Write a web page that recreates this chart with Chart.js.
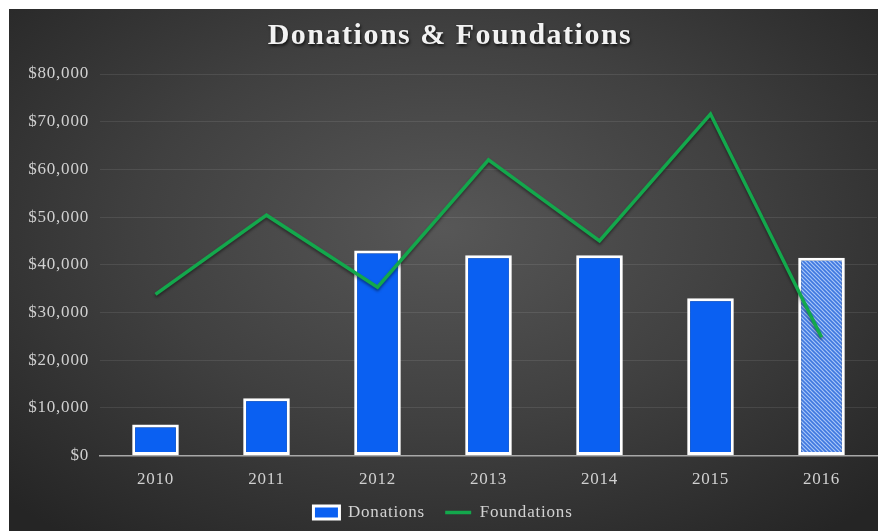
<!DOCTYPE html>
<html>
<head>
<meta charset="utf-8">
<script src="https://cdn.jsdelivr.net/npm/chart.js@4"></script>
<style>
  html, body { margin: 0; padding: 0; background: #ffffff; }
  #wrap {
    position: absolute; left: 9px; top: 9px; width: 869px; height: 522px;
    background: radial-gradient(ellipse 70% 75% at 50% 42%, #575757 0%, #404040 50%, #252525 100%);
  }
  canvas { display: block; }
</style>
</head>
<body>
<div id="wrap"><canvas id="chart" width="869" height="522"></canvas></div>
<script>
/* ─────────────────────────────────────────
   DATA
───────────────────────────────────────── */
const chartTitle  = 'Donations & Foundations';
const years       = ['2010', '2011', '2012', '2013', '2014', '2015', '2016'];
const donations   = [6500, 12000, 43000, 42000, 42000, 33000, 41500];
const foundations = [33800, 50400, 35300, 62000, 45000, 71600, 24800];
const yTicks      = [0, 10000, 20000, 30000, 40000, 50000, 60000, 70000, 80000];

const serif  = "'Liberation Serif', 'DejaVu Serif', serif";
const blue   = '#0a60f2';
const green  = '#13a84c';

/* hatched fill for the last bar */
function makeHatch() {
  const c = document.createElement('canvas');
  c.width = 4; c.height = 4;
  const g = c.getContext('2d');
  g.fillStyle = '#3f78e0';
  g.fillRect(0, 0, 4, 4);
  g.strokeStyle = '#a9c6f7';
  g.lineWidth = 1.2;
  g.beginPath();
  g.moveTo(0, 0); g.lineTo(4, 4);
  g.moveTo(-1, 3); g.lineTo(1, 5);
  g.moveTo(3, -1); g.lineTo(5, 1);
  g.stroke();
  return g.createPattern(c, 'repeat');
}
const hatch = makeHatch();
const barFills = donations.map((v, i) => i === donations.length - 1 ? hatch : blue);

/* ─────────────────────────────────────────
   SMALL PLUGINS: spacing, title, shadow
───────────────────────────────────────── */
const typeLook = {
  id: 'typeLook',
  beforeUpdate(chart) { chart.ctx.letterSpacing = '0.8px'; },
  beforeDatasetDraw(chart, args) {
    if (args.index !== 0) return;
    const ctx = chart.ctx;
    ctx.save();
    ctx.shadowColor = 'rgba(0,0,0,0.45)';
    ctx.shadowBlur = 3;
    ctx.shadowOffsetY = 2;
  },
  afterDatasetDraw(chart, args) {
    if (args.index === 0) chart.ctx.restore();
  },
  afterDraw(chart) {
    const ctx = chart.ctx;
    ctx.save();
    ctx.letterSpacing = '1.5px';
    ctx.font = "bold 30px " + serif;
    ctx.fillStyle = '#f2f2f2';
    ctx.textAlign = 'center';
    ctx.textBaseline = 'alphabetic';
    ctx.shadowColor = 'rgba(0,0,0,0.7)';
    ctx.shadowBlur = 3;
    ctx.shadowOffsetX = 1;
    ctx.shadowOffsetY = 2;
    ctx.fillText(chartTitle, 441, 35);
    ctx.restore();
  }
};

new Chart(document.getElementById('chart'), {
  type: 'bar',
  data: {
    labels: years,
    datasets: [
      {
        type: 'line',
        label: 'Foundations',
        data: foundations,
        borderColor: green,
        backgroundColor: green,
        borderWidth: 3.5,
        pointRadius: 0,
        tension: 0,
        order: 0,
        pointStyle: 'line',
      },
      {
        label: 'Donations',
        data: donations,
        backgroundColor: barFills,
        borderColor: '#ffffff',
        borderWidth: 3,
        borderSkipped: false,
        barPercentage: 0.42,
        categoryPercentage: 1,
        order: 1,
        pointStyle: 'rect',
      }
    ]
  },
  plugins: [typeLook],
  options: {
    responsive: false,
    animation: false,
    layout: { padding: { left: 0, right: 1, top: 65, bottom: 0 } },
    plugins: {
      title: { display: false },
      legend: {
        position: 'bottom',
        reverse: true,
        labels: {
          color: '#d2d2d2',
          font: { family: serif, size: 17 },
          usePointStyle: true,
          pointStyleWidth: 26,
          boxHeight: 13,
          padding: 5,
          generateLabels: chart => {
            const items = Chart.defaults.plugins.legend.labels.generateLabels(chart);
            items.forEach(it => { if (it.text === 'Donations') it.text += '   '; });
            return items;
          },
        }
      },
      tooltip: { enabled: false },
    },
    scales: {
      x: {
        afterFit: s => { s.height += 3; },
        grid: { display: false },
        border: { color: '#a8a8a8', width: 1.5 },
        ticks: { color: '#d0d0d0', font: { family: serif, size: 17 }, padding: 6 },
      },
      y: {
        min: 0, max: 80000,
        afterBuildTicks: s => { s.ticks = yTicks.map(v => ({ value: v })); },
        afterFit: s => { s.width = 91; },
        grid: { color: 'rgba(255,255,255,0.09)', drawTicks: false },
        border: { display: false },
        ticks: {
          color: '#d0d0d0',
          font: { family: serif, size: 17 },
          padding: 11,
          callback: v => '$' + v.toLocaleString('en-US'),
        }
      }
    }
  }
});
</script>
</body>
</html>
